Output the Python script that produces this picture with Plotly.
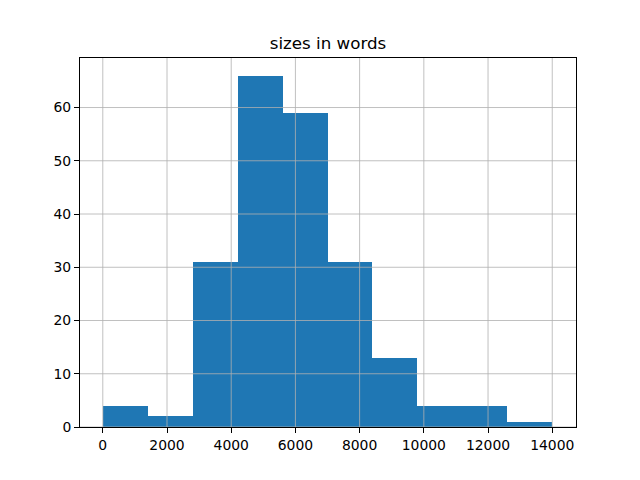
import plotly.graph_objects as go

bin_edges = [0, 1400, 2800, 4200, 5600, 7000, 8400, 9800, 11200, 12600, 14000]
counts = [4, 2, 31, 66, 59, 31, 13, 4, 4, 1]
x_ticks = [0, 2000, 4000, 6000, 8000, 10000, 12000, 14000]
y_ticks = [0, 10, 20, 30, 40, 50, 60]
title = "sizes in words"

centers = [(a + b) / 2 for a, b in zip(bin_edges[:-1], bin_edges[1:])]
widths = [b - a for a, b in zip(bin_edges[:-1], bin_edges[1:])]

fig = go.Figure(go.Bar(x=centers, y=counts, width=widths,
                       marker=dict(color="#1f77b4", line=dict(width=0))))

x_range = [-710, 14740]
y_range = [0, 69.3]

shapes = []
for t in x_ticks:
    shapes.append(dict(type="line", xref="x", yref="paper", x0=t, x1=t, y0=0, y1=1,
                       line=dict(color="#b0b0b0", width=0.8), layer="above"))
for t in y_ticks:
    shapes.append(dict(type="line", xref="paper", yref="y", x0=0, x1=1, y0=t, y1=t,
                       line=dict(color="#b0b0b0", width=0.8), layer="above"))

fig.update_layout(
    width=640, height=480,
    margin=dict(l=72, r=72, t=50, b=61),
    paper_bgcolor="white", plot_bgcolor="white",
    font=dict(family="DejaVu Sans", size=14, color="black"),
    title=dict(text=title, x=0.5, xref="paper", xanchor="center",
               y=1 - 35 / 480, yref="container", yanchor="middle",
               font=dict(size=16.7, family="DejaVu Sans", color="black")),
    showlegend=False, bargap=0,
    shapes=shapes,
)
fig.update_xaxes(range=x_range, tickvals=x_ticks, ticktext=[str(v) for v in x_ticks],
                 showgrid=False, zeroline=False, showline=True, linecolor="black",
                 linewidth=1, mirror=True, ticks="outside", ticklen=5, tickwidth=1,
                 tickcolor="black", tickfont=dict(size=13.9))
fig.update_yaxes(range=y_range, tickvals=y_ticks, ticktext=[str(v) for v in y_ticks],
                 showgrid=False, zeroline=False, showline=True, linecolor="black",
                 linewidth=1, mirror=True, ticks="outside", ticklen=5, tickwidth=1,
                 tickcolor="black", tickfont=dict(size=13.9))

fig.write_html("out.html")
